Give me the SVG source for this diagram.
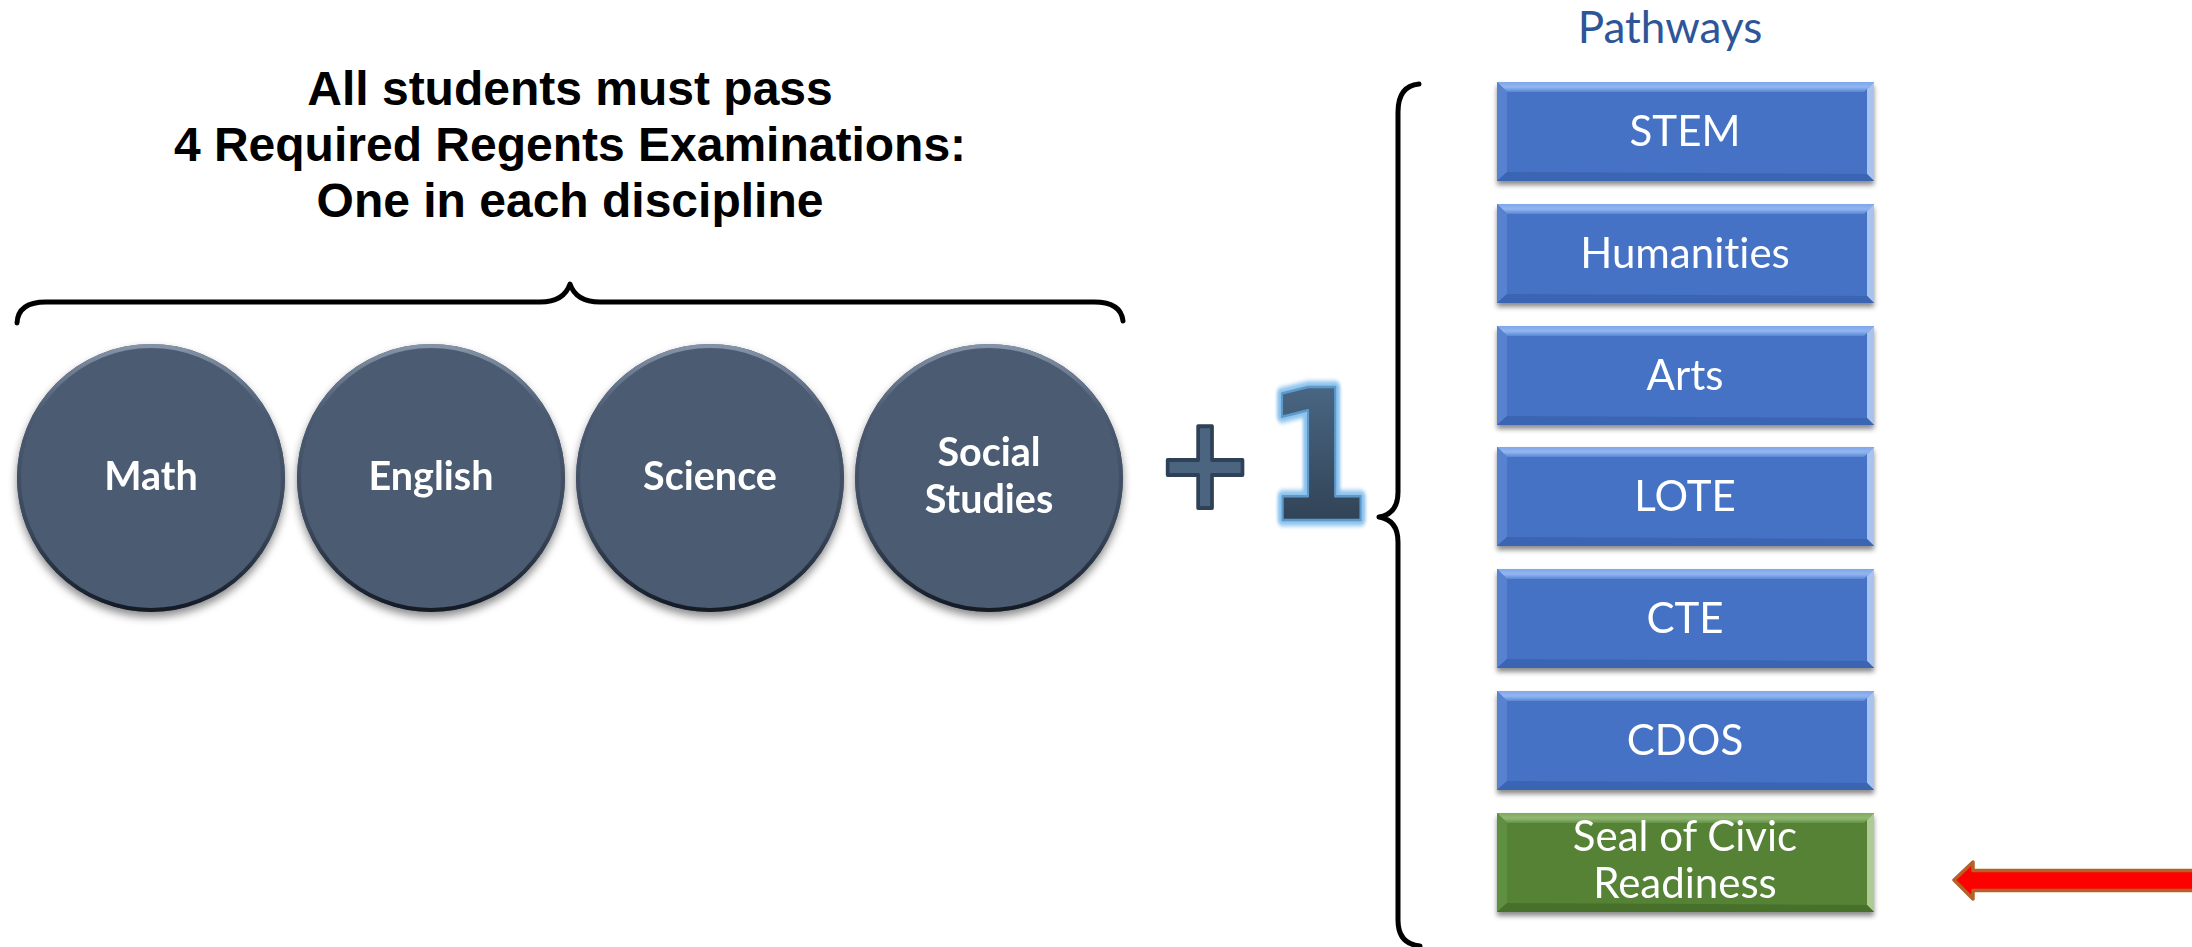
<svg xmlns="http://www.w3.org/2000/svg" xmlns:xlink="http://www.w3.org/1999/xlink" width="2192" height="947" viewBox="0 0 2192 947">
<style>
.title{font-family:"Liberation Sans",Arial,sans-serif;font-weight:bold;font-size:48px;fill:#000;text-anchor:middle}
.clabel{font-family:Lato,"Open Sans",sans-serif;font-weight:bold;font-size:39.5px;fill:#fff;text-anchor:middle;font-variant-ligatures:none}
.blabel{font-family:Lato,"Open Sans",sans-serif;font-size:42px;fill:#fff;text-anchor:middle;font-variant-ligatures:none}
.ptitle{font-family:Lato,"Open Sans",sans-serif;font-size:44px;fill:#2e5597;text-anchor:middle}
.brace{fill:none;stroke:#000;stroke-width:5;stroke-linecap:round;stroke-linejoin:round}
</style>
<defs>
<filter id="shadow" x="-10%" y="-10%" width="120%" height="130%">
<feDropShadow dx="0" dy="5" stdDeviation="4" flood-color="#000" flood-opacity="0.45"/>
</filter>
<filter id="bshadow" x="-5%" y="-10%" width="110%" height="130%">
<feDropShadow dx="0" dy="4" stdDeviation="2.5" flood-color="#000" flood-opacity="0.45"/>
</filter>
<filter id="glow" x="-20%" y="-20%" width="140%" height="140%">
<feGaussianBlur stdDeviation="2"/>
</filter>
<linearGradient id="rim" x1="0" y1="0" x2="0" y2="1">
<stop offset="0" stop-color="#8593a8"/>
<stop offset="0.25" stop-color="#4b5b72"/>
<stop offset="0.7" stop-color="#3a475a"/>
<stop offset="1" stop-color="#141b26"/>
</linearGradient>
<linearGradient id="oneFill" x1="0" y1="0" x2="0" y2="1">
<stop offset="0" stop-color="#4f6f8e"/>
<stop offset="1" stop-color="#2a3848"/>
</linearGradient>
<linearGradient id="topBlue" x1="0" y1="0" x2="0" y2="1">
<stop offset="0" stop-color="#7ea6ea"/>
<stop offset="0.5" stop-color="#92b6f0"/>
<stop offset="1" stop-color="#5a86d4"/>
</linearGradient>
<linearGradient id="topGreen" x1="0" y1="0" x2="0" y2="1">
<stop offset="0" stop-color="#7eaa5c"/>
<stop offset="0.5" stop-color="#92b872"/>
<stop offset="1" stop-color="#64944a"/>
</linearGradient>
<g id="boxBlue">
<rect x="0" y="0" width="377" height="99" fill="#4472c4"/>
<polygon points="0,0 377,0 367,10 10,10" fill="url(#topBlue)"/>
<polygon points="0,0 10,10 10,90 0,99" fill="#5882cf"/>
<polygon points="377,0 377,99 370,92 370,7" fill="#a9c3ef"/>
<polygon points="0,99 377,99 370,92 10,90" fill="#3b65b2"/>
</g>
<g id="boxGreen">
<rect x="0" y="0" width="377" height="99" fill="#548235"/>
<polygon points="0,0 377,0 367,10 10,10" fill="url(#topGreen)"/>
<polygon points="0,0 10,10 10,90 0,99" fill="#5f8f40"/>
<polygon points="377,0 377,99 370,92 370,7" fill="#aecb95"/>
<polygon points="0,99 377,99 370,92 10,90" fill="#47712b"/>
</g>
<g id="disc">
<circle cx="0" cy="0" r="134" fill="#4b5b72"/>
<circle cx="0" cy="0" r="132" fill="none" stroke="url(#rim)" stroke-width="4"/>
</g>
</defs>
<rect width="2192" height="947" fill="#fff"/>

<g id="title">
<text class="title" x="570" y="105">All students must pass</text>
<text class="title" x="570" y="161">4 Required Regents Examinations:</text>
<text class="title" x="570" y="217">One in each discipline</text>
</g>

<g id="node-math" filter="url(#shadow)">
<use xlink:href="#disc" href="#disc" x="151" y="478"/>
<text class="clabel" x="151" y="490">Math</text>
</g>
<g id="node-english" filter="url(#shadow)">
<use xlink:href="#disc" href="#disc" x="431" y="478"/>
<text class="clabel" x="431" y="490">English</text>
</g>
<g id="node-science" filter="url(#shadow)">
<use xlink:href="#disc" href="#disc" x="710" y="478"/>
<text class="clabel" x="710" y="490">Science</text>
</g>
<g id="node-social-studies" filter="url(#shadow)">
<use xlink:href="#disc" href="#disc" x="989" y="478"/>
<text class="clabel" x="989" y="466">Social</text>
<text class="clabel" x="989" y="513">Studies</text>
</g>

<g id="plus-one">
<text x="1205" y="508" font-family="DejaVu Sans,sans-serif" font-weight="bold" font-size="130" text-anchor="middle" fill="#4b6580" stroke="#2e4156" stroke-width="4" stroke-linejoin="round" transform="translate(1205,0) scale(0.92,1) translate(-1205,0)">+</text>
<g transform="translate(1318,520) scale(0.84,1)">
<text x="0" y="0" font-family="DejaVu Sans,sans-serif" font-weight="bold" font-size="182" text-anchor="middle" fill="#7fb8e8" stroke="#8cc3ee" stroke-width="12" stroke-linejoin="round" filter="url(#glow)">1</text>
<text x="0" y="0" font-family="DejaVu Sans,sans-serif" font-weight="bold" font-size="182" text-anchor="middle" fill="url(#oneFill)" stroke="#5d9acb" stroke-width="2.5" stroke-linejoin="round">1</text>
</g>
</g>

<g id="pathways-title">
<text class="ptitle" x="1670" y="43">Pathways</text>
</g>

<g id="node-stem" filter="url(#bshadow)">
<use xlink:href="#boxBlue" href="#boxBlue" x="1497" y="82"/>
<text class="blabel" x="1685" y="146">STEM</text>
</g>
<g id="node-humanities" filter="url(#bshadow)">
<use xlink:href="#boxBlue" href="#boxBlue" x="1497" y="204"/>
<text class="blabel" x="1685" y="268">Humanities</text>
</g>
<g id="node-arts" filter="url(#bshadow)">
<use xlink:href="#boxBlue" href="#boxBlue" x="1497" y="326"/>
<text class="blabel" x="1685" y="390">Arts</text>
</g>
<g id="node-lote" filter="url(#bshadow)">
<use xlink:href="#boxBlue" href="#boxBlue" x="1497" y="447"/>
<text class="blabel" x="1685" y="511">LOTE</text>
</g>
<g id="node-cte" filter="url(#bshadow)">
<use xlink:href="#boxBlue" href="#boxBlue" x="1497" y="569"/>
<text class="blabel" x="1685" y="633">CTE</text>
</g>
<g id="node-cdos" filter="url(#bshadow)">
<use xlink:href="#boxBlue" href="#boxBlue" x="1497" y="691"/>
<text class="blabel" x="1685" y="755">CDOS</text>
</g>
<g id="node-seal" filter="url(#bshadow)">
<use xlink:href="#boxGreen" href="#boxGreen" x="1497" y="813"/>
<text class="blabel" x="1685" y="851">Seal of Civic</text>
<text class="blabel" x="1685" y="898">Readiness</text>
</g>

<g id="connectors">
<path class="brace" d="M17,323 Q18,302 46,302 L540,302 Q564,302 570,284 Q576,302 600,302 L1094,302 Q1121,302 1123,321"/>
<path class="brace" d="M1419,84 Q1398,86 1398,112 L1398,492 Q1398,514 1379,517 Q1398,520 1398,542 L1398,920 Q1398,944 1420,946"/>
<path d="M1954,880 L1973,862 L1973,870.5 L2200,870.5 L2200,890.5 L1973,890.5 L1973,899 Z" fill="#ff0000" stroke="#b5612a" stroke-width="3.5" stroke-linejoin="round"/>
</g>
</svg>
